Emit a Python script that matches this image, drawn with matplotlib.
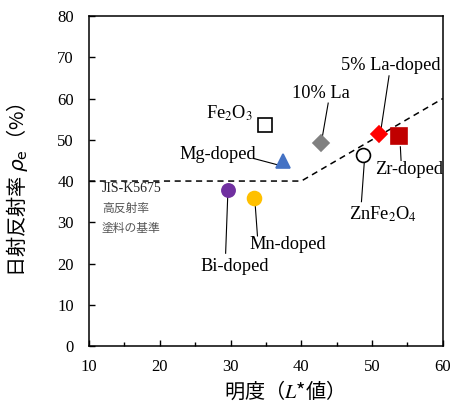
import matplotlib
matplotlib.use("Agg")
import matplotlib.pyplot as plt

serif = ['Liberation Serif', 'DejaVu Serif']
cjk = ['Noto Sans CJK JP', 'DejaVu Sans']

names = ['Fe2O3', '10% La', '5% La-doped', 'Zr-doped', 'ZnFe2O4', 'Mg-doped', 'Bi-doped', 'Mn-doped']
lightness = [34.9, 42.8, 51.0, 53.8, 48.7, 37.4, 29.6, 33.3]
reflectance = [53.6, 49.2, 51.4, 50.9, 46.3, 44.8, 37.8, 35.9]
markers = ['s', 'D', 'D', 's', 'o', '^', 'o', 'o']
facecolors = ['white', '#808080', '#ff0000', '#c00000', 'white', '#4472c4', '#7030a0', '#ffc000']
edgecolors = ['black', '#808080', '#ff0000', '#c00000', 'black', '#4472c4', '#7030a0', '#ffc000']
sizes = [10, 8.5, 8.5, 11, 10, 10, 9.5, 10]

label_texts = [r'Fe$_2$O$_3$', '10% La', '5% La-doped', 'Zr-doped', r'ZnFe$_2$O$_4$', 'Mg-doped', 'Bi-doped', 'Mn-doped']
label_pos = [(29.8, 56.5), (42.8, 61.3), (52.7, 68.1), (55.3, 42.7), (51.5, 32.0), (28.2, 46.5), (30.6, 19.2), (38.1, 24.5)]
line_start = [None, (43.8, 58.9), (52.4, 65.5), (54.0, 48.3), (48.5, 35.0), (33.2, 45.5), (29.3, 22.5), (33.8, 26.7)]
line_end = [None, (43.0, 51.0), (51.3, 53.0), (54.1, 45.0), (48.9, 44.5), (36.5, 44.0), (29.6, 36.5), (33.5, 33.8)]

std_x = [10, 40, 60]
std_y = [40, 40, 60]

fig = plt.figure(figsize=(4.5, 4.01), dpi=100)
ax = fig.add_axes([0.198, 0.137, 0.786, 0.823])

ax.plot(std_x, std_y, linestyle=(0, (4, 3)), color='black', linewidth=1.1)

for i in range(len(names)):
    ax.plot(lightness[i], reflectance[i], marker=markers[i], markersize=sizes[i],
            markerfacecolor=facecolors[i], markeredgecolor=edgecolors[i],
            markeredgewidth=1.2, linestyle='none', zorder=5)
    ax.text(label_pos[i][0], label_pos[i][1], label_texts[i], ha='center', va='center',
            fontsize=13.2, family=serif, math_fontfamily='stix')
    if line_start[i] is not None:
        ax.plot([line_start[i][0], line_end[i][0]], [line_start[i][1], line_end[i][1]],
                color='black', linewidth=0.8)

ax.text(11.8, 38.1, 'JIS-K5675', fontsize=10, family=serif, color='#222222', va='center', ha='left')
ax.text(11.8, 33.4, '高反射率', fontsize=8.5, family=cjk, color='#555555', va='center', ha='left')
ax.text(11.8, 28.6, '塗料の基準', fontsize=8.5, family=cjk, color='#555555', va='center', ha='left')

ax.set_xlim(10, 60)
ax.set_ylim(0, 80)
ax.set_xticks([10, 20, 30, 40, 50, 60])
ax.set_xticks([15, 25, 35, 45, 55], minor=True)
ax.set_yticks([0, 10, 20, 30, 40, 50, 60, 70, 80])
ax.tick_params(direction='in', length=4, width=1, labelsize=12)
ax.tick_params(axis='x', pad=9)
ax.tick_params(axis='y', pad=11)
ax.tick_params(which='minor', direction='in', length=3, width=1)
for lab in ax.get_xticklabels() + ax.get_yticklabels():
    lab.set_fontfamily(serif)
for s in ax.spines.values():
    s.set_linewidth(1.1)

ax.set_xlabel('明度（$\\mathit{L}$*値）', fontsize=14.5, family=cjk, math_fontfamily='stix')
ax.xaxis.set_label_coords(0.537, -0.100)
ax.set_ylabel('日射反射率 $\\rho_{\\mathrm{e}}$（%）', fontsize=14.5, family=cjk, math_fontfamily='dejavusans')
ax.yaxis.set_label_coords(-0.167, 0.473)

fig.savefig('out.png', dpi=100)
